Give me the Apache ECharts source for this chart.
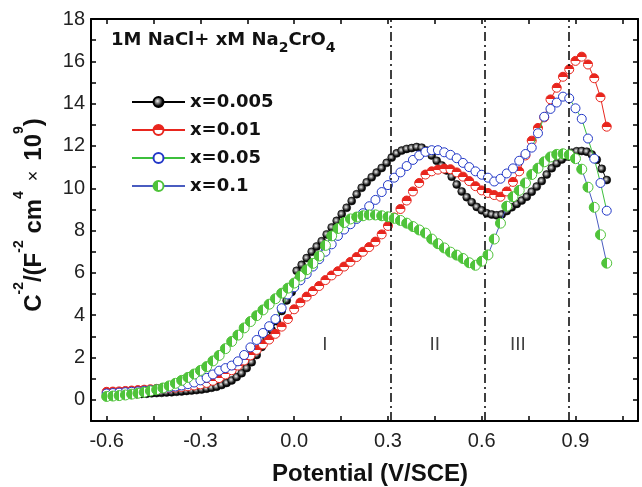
<!DOCTYPE html>
<html>
<head>
<meta charset="utf-8">
<script src="https://cdn.jsdelivr.net/npm/echarts@6/dist/echarts.min.js"></script>
<style>html,body{margin:0;padding:0;background:#fff}#c{width:642px;height:487px}</style>
</head>
<body>
<div id="c"></div>
<script>
// ---- data ----
const seriesNames = ['x=0.005', 'x=0.01', 'x=0.05', 'x=0.1'];
const potentialsBlack = [-0.6,-0.584,-0.568,-0.552,-0.536,-0.52,-0.504,-0.488,-0.472,-0.456,-0.44,-0.424,-0.408,-0.392,-0.376,-0.36,-0.344,-0.328,-0.312,-0.296,-0.28,-0.264,-0.248,-0.232,-0.216,-0.2,-0.184,-0.168,-0.152,-0.136,-0.12,-0.104,-0.088,-0.072,-0.056,-0.04,-0.024,-0.008,0.008,0.024,0.04,0.056,0.072,0.088,0.104,0.12,0.136,0.152,0.168,0.184,0.2,0.216,0.232,0.248,0.264,0.28,0.296,0.312,0.328,0.344,0.36,0.376,0.392,0.408,0.424,0.44,0.456,0.472,0.488,0.504,0.52,0.536,0.552,0.568,0.584,0.6,0.616,0.632,0.648,0.664,0.68,0.696,0.712,0.728,0.744,0.76,0.776,0.792,0.808,0.824,0.84,0.856,0.872,0.888,0.904,0.92,0.936,0.952,0.968,0.984,1.0];
const valuesX0005 = [0.22,0.23,0.23,0.24,0.25,0.26,0.27,0.28,0.29,0.31,
0.32,0.33,0.35,0.36,0.38,0.40,0.42,0.44,0.46,0.49,
0.53,0.57,0.62,0.70,0.80,0.92,1.08,1.26,1.50,1.78,
2.12,2.50,2.90,3.30,3.72,4.20,4.70,5.10,6.10,6.38,
6.70,7.00,7.25,7.50,7.82,8.15,8.46,8.78,9.08,9.40,
9.72,10.02,10.28,10.52,10.74,10.96,11.20,11.45,11.65,11.78,
11.86,11.90,11.95,11.92,11.78,11.55,11.30,11.08,10.84,10.55,
10.18,9.85,9.58,9.34,9.12,8.96,8.82,8.76,8.72,8.76,
8.92,9.10,9.26,9.42,9.60,9.84,10.08,10.34,10.65,10.95,
11.18,11.36,11.50,11.68,11.75,11.76,11.73,11.60,11.35,10.92,
10.39];
const potentials = [-0.6,-0.58,-0.56,-0.54,-0.52,-0.5,-0.48,-0.46,-0.44,-0.42,-0.4,-0.38,-0.36,-0.34,-0.32,-0.3,-0.28,-0.26,-0.24,-0.22,-0.2,-0.18,-0.16,-0.14,-0.12,-0.1,-0.08,-0.06,-0.04,-0.02,0,0.02,0.04,0.06,0.08,0.1,0.12,0.14,0.16,0.18,0.2,0.22,0.24,0.26,0.28,0.3,0.32,0.34,0.36,0.38,0.4,0.42,0.44,0.46,0.48,0.5,0.52,0.54,0.56,0.58,0.6,0.62,0.64,0.66,0.68,0.7,0.72,0.74,0.76,0.78,0.8,0.82,0.84,0.86,0.88,0.9,0.92,0.94,0.96,0.98,1.0];
const valuesX001 = [0.38,0.39,0.40,0.42,0.44,0.46,0.48,0.50,0.52,0.54,
0.56,0.58,0.61,0.64,0.68,0.73,0.80,0.90,1.03,1.20,
1.40,1.62,1.86,2.10,2.36,2.62,2.85,3.12,3.46,3.82,
4.28,4.60,4.88,5.14,5.38,5.66,5.88,6.08,6.30,6.52,
6.75,7.00,7.22,7.48,7.82,8.22,8.62,9.02,9.42,9.85,
10.25,10.65,10.80,10.88,10.93,10.90,10.75,10.55,10.34,10.10,
9.90,9.78,9.68,9.60,9.85,10.30,10.80,11.55,12.25,12.85,
13.35,14.20,14.75,15.27,15.62,16.02,16.22,15.85,15.20,14.30,
12.91];
const valuesX005 = [0.30,0.32,0.34,0.36,0.38,0.40,0.43,0.46,0.50,0.54,
0.58,0.63,0.68,0.74,0.82,0.92,1.04,1.20,1.38,1.50,
1.62,1.82,2.12,2.48,2.83,3.16,3.48,3.82,4.33,4.98,
5.32,5.65,5.95,6.30,6.65,7.00,7.35,7.75,8.05,8.30,
8.55,8.82,9.15,9.45,9.82,10.15,10.50,10.75,11.05,11.34,
11.55,11.72,11.80,11.80,11.70,11.58,11.42,11.20,11.00,10.80,
10.64,10.50,10.32,10.45,10.70,10.94,11.30,11.62,11.92,12.60,
13.38,13.75,14.05,14.33,14.25,13.78,13.28,12.35,11.40,10.25,
8.94];
const valuesX01 = [0.16,0.18,0.20,0.23,0.27,0.31,0.36,0.42,0.48,0.56,
0.66,0.78,0.92,1.06,1.22,1.39,1.57,1.84,2.10,2.42,
2.76,3.06,3.40,3.70,3.98,4.25,4.52,4.78,5.04,5.28,
5.52,5.85,6.15,6.45,6.80,7.30,7.75,8.10,8.38,8.55,
8.64,8.70,8.74,8.74,8.70,8.65,8.58,8.48,8.35,8.19,
8.03,7.88,7.60,7.38,7.18,6.98,6.84,6.68,6.48,6.36,
6.55,6.85,7.60,8.35,9.15,9.60,9.90,10.25,10.65,10.95,
11.25,11.48,11.60,11.63,11.58,11.40,10.90,10.05,9.10,7.80,
6.46];
const boundaryPotentials = [0.313, 0.615, 0.875];
const regionNames = ['I', 'II', 'III'];
const regionX = [0.098, 0.45, 0.716];
const regionY = [2.62, 2.62, 2.62];
const xTickLabels = [-0.6, -0.3, 0.0, 0.3, 0.6, 0.9];
const xTicks = [-0.6, -0.45, -0.3, -0.15, 0, 0.15, 0.3, 0.45, 0.6, 0.75, 0.9, 1.05];
const yTickLabels = [0, 2, 4, 6, 8, 10, 12, 14, 16, 18];
const yTicks = [0,1,2,3,4,5,6,7,8,9,10,11,12,13,14,15,16,17,18];

// ---- chart ----
const zip = (xs, ys) => xs.map((x, i) => [x, ys[i]]);
const RED = '#e8261e', BLUE = '#2238c8', GREEN = '#4fc33a', LGREEN = '#3cbf3c', LBLUE = '#4a5cc0';
const sans = '"Liberation Sans", Arial, Helvetica, sans-serif';
const bold = '"DejaVu Sans", sans-serif';

const tickCommon = {show: true, inside: true, length: 5, lineStyle: {color: '#000', width: 1.5}};
const axLine = {show: true, onZero: false, lineStyle: {color: '#000', width: 2}};

const chart = echarts.init(document.getElementById('c'), null, {renderer: 'canvas'});
chart.setOption({
  animation: false,
  backgroundColor: '#fff',
  grid: {left: 91, right: 4, top: 19, bottom: 66, containLabel: false},
  legend: {
    orient: 'vertical', left: 131, top: 92, padding: 0,
    itemWidth: 53, itemHeight: 12.5, itemGap: 8,
    data: seriesNames,
    textStyle: {fontFamily: bold, fontWeight: 'bold', fontSize: 18, color: '#111', lineHeight: 20}
  },
  xAxis: [{
    type: 'value', min: -0.65, max: 1.1, position: 'bottom',
    axisLine: axLine,
    axisTick: Object.assign({customValues: xTicks}, tickCommon),
    axisLabel: {customValues: xTickLabels, formatter: v => v.toFixed(1), fontFamily: sans, fontSize: 20, color: '#222', margin: 10},
    splitLine: {show: false}
  }, {
    type: 'value', min: -0.65, max: 1.1, position: 'top',
    axisLine: axLine,
    axisTick: Object.assign({customValues: xTicks}, tickCommon),
    axisLabel: {show: false}, splitLine: {show: false}
  }],
  yAxis: [{
    type: 'value', min: -1, max: 18, position: 'left',
    axisLine: axLine,
    axisTick: Object.assign({customValues: yTicks}, tickCommon),
    axisLabel: {customValues: yTickLabels, fontFamily: sans, fontSize: 20, color: '#222', margin: 6},
    splitLine: {show: false}
  }, {
    type: 'value', min: -1, max: 18, position: 'right',
    axisLine: axLine,
    axisTick: Object.assign({customValues: yTicks}, tickCommon),
    axisLabel: {show: false}, splitLine: {show: false}
  }],
  series: [
    {
      name: seriesNames[0], type: 'line', data: zip(potentialsBlack, valuesX0005),
      symbol: 'circle', symbolSize: 8, showAllSymbol: true,
      lineStyle: {color: '#000', width: 1},
      itemStyle: {color: {type: 'radial', x: 0.42, y: 0.42, r: 0.6, colorStops: [
        {offset: 0, color: '#f4f4f4'}, {offset: 0.3, color: '#8a8a8a'}, {offset: 0.65, color: '#151515'}, {offset: 1, color: '#000'}]},
        borderColor: '#000', borderWidth: 0.5},
      markLine: {
        silent: true, symbol: 'none', label: {show: false},
        lineStyle: {color: '#000', width: 1.5, type: [9, 4, 2, 4]},
        data: boundaryPotentials.map(v => ({xAxis: v}))
      },
      z: 2
    },
    {
      name: seriesNames[1], type: 'line', data: zip(potentials, valuesX001),
      symbol: 'circle', symbolSize: 9, showAllSymbol: true,
      lineStyle: {color: RED, width: 1},
      itemStyle: {color: {type: 'linear', x: 0, y: 0, x2: 0, y2: 1, colorStops: [
        {offset: 0, color: RED}, {offset: 0.5, color: RED}, {offset: 0.5, color: '#fff'}, {offset: 1, color: '#fff'}]},
        borderColor: RED, borderWidth: 1},
      z: 3
    },
    {
      name: seriesNames[2], type: 'line', data: zip(potentials, valuesX005),
      symbol: 'circle', symbolSize: 9, showAllSymbol: true,
      lineStyle: {color: LGREEN, width: 1},
      itemStyle: {color: '#fff', borderColor: BLUE, borderWidth: 1},
      z: 4
    },
    {
      name: seriesNames[3], type: 'line', data: zip(potentials, valuesX01),
      symbol: 'circle', symbolSize: 10, showAllSymbol: true,
      lineStyle: {color: LBLUE, width: 1},
      itemStyle: {color: {type: 'linear', x: 0, y: 0, x2: 1, y2: 0, colorStops: [
        {offset: 0, color: GREEN}, {offset: 0.5, color: GREEN}, {offset: 0.5, color: '#fff'}, {offset: 1, color: '#fff'}]},
        borderColor: GREEN, borderWidth: 1},
      z: 5
    },
    {
      name: 'regions', type: 'scatter', symbolSize: 0, silent: true,
      data: regionNames.map((n, i) => ({name: n, value: [regionX[i], regionY[i]]})),
      label: {show: true, position: 'inside', formatter: p => p.name, fontFamily: sans, fontSize: 19, color: '#111'},
      z: 1
    }
  ],
  graphic: [
    {
      type: 'text', left: 111, top: 31, silent: true,
      style: {
        text: '{b|1M NaCl+ xM Na}{s|2}{b|CrO}{s|4}',
        rich: {
          b: {fontFamily: bold, fontWeight: 'bold', fontSize: 18, lineHeight: 30, verticalAlign: 'middle', fill: '#111'},
          s: {fontFamily: bold, fontWeight: 'bold', fontSize: 14, lineHeight: 14, verticalAlign: 'bottom', fill: '#111'}
        }
      }
    },
    {
      type: 'text', x: 370, y: 474, silent: true,
      style: {text: 'Potential (V/SCE)', fontFamily: sans, fontWeight: 'bold', fontSize: 24, fill: '#111', align: 'center', verticalAlign: 'middle'}
    },
    {
      type: 'text', x: 34, y: 215, rotation: Math.PI / 2, silent: true,
      style: {
        text: '{b|C}{s|-2}{b|/(F}{s|-2}{b| cm}{s|4}{m|  ×  }{b|10}{s|9}{b|)}',
        align: 'center', verticalAlign: 'middle',
        rich: {
          b: {fontFamily: sans, fontWeight: 'bold', fontSize: 24, lineHeight: 44, verticalAlign: 'middle', fill: '#111'},
          m: {fontFamily: sans, fontSize: 18, lineHeight: 44, verticalAlign: 'middle', fill: '#111'},
          s: {fontFamily: sans, fontWeight: 'bold', fontSize: 14, lineHeight: 14, verticalAlign: 'top', fill: '#111'}
        }
      }
    }
  ]
});
</script>
</body>
</html>
